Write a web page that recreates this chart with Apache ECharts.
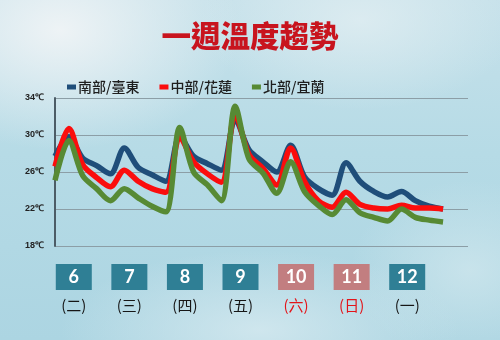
<!DOCTYPE html>
<html>
<head>
<meta charset="utf-8">
<script src="https://cdn.jsdelivr.net/npm/echarts@6/dist/echarts.min.js"></script>
<style>
  html, body { margin: 0; padding: 0; }
  #chart {
    width: 500px; height: 340px;
    background:
      radial-gradient(ellipse 180px 120px at 60px 30px, rgba(240,244,246,0.95), rgba(240,244,246,0) 100%),
      radial-gradient(ellipse 160px 90px at 360px 20px, rgba(225,238,242,0.8), rgba(225,238,242,0) 100%),
      radial-gradient(ellipse 200px 80px at 260px 330px, rgba(215,234,240,0.8), rgba(215,234,240,0) 100%),
      radial-gradient(ellipse 120px 90px at 470px 270px, rgba(210,232,238,0.7), rgba(210,232,238,0) 100%),
      linear-gradient(180deg, #c6e1ea 0%, #b6dbe6 45%, #acd5e2 100%);
  }
</style>
</head>
<body>
<div id="chart"></div>
<script>
// Forecast steps: 4 per day (6-hour steps), 7 days -> 29 points
const southTaitung = [27.7, 29.8, 27.5, 26.7, 25.8, 28.6, 26.5, 25.7, 25.0, 29.9, 27.7, 26.9, 26.2, 31.7, 28.4, 27.1, 26.0, 28.9, 25.5, 24.2, 23.5, 27.0, 25.0, 23.9, 23.3, 23.9, 22.9, 22.3, 22.0];
const centralHualien = [26.6, 30.7, 26.8, 25.4, 24.4, 26.2, 25.0, 24.2, 23.8, 29.8, 27.1, 25.8, 24.9, 32.2, 27.9, 26.4, 24.6, 28.6, 25.0, 22.9, 22.2, 23.8, 22.5, 22.1, 22.0, 22.4, 22.1, 22.1, 22.0];
const northYilan = [25.1, 29.4, 25.6, 24.2, 22.9, 24.2, 23.2, 22.3, 21.7, 30.8, 26.0, 24.6, 22.9, 33.1, 27.4, 25.9, 23.7, 27.1, 23.9, 22.4, 21.4, 23.0, 21.6, 21.1, 20.7, 22.0, 21.1, 20.8, 20.6];

const seriesNames = ['南部/臺東', '中部/花蓮', '北部/宜蘭'];
const dayNumbers = ['6', '7', '8', '9', '10', '11', '12'];
const weekdays = ['二', '三', '四', '五', '六', '日', '一'];
const weekendDays = ['10', '11'];
const yTicks = [18, 22, 26, 30, 34];

const toPairs = arr => arr.map((v, i) => [i, v]);

const chart = echarts.init(document.getElementById('chart'), null, { renderer: 'canvas' });
const cjk = '"Noto Sans CJK TC", "Noto Sans CJK SC", sans-serif';

chart.setOption({
  backgroundColor: 'transparent',
  animation: false,
  title: {
    text: '一週溫度趨勢',
    left: 'center',
    top: 16,
    textStyle: { fontFamily: cjk, fontSize: 29.5, fontWeight: 900, color: '#c8141e' }
  },
  legend: {
    data: seriesNames,
    left: 62,
    top: 75,
    icon: 'rect',
    itemWidth: 9,
    itemHeight: 5,
    itemGap: 20,
    textStyle: { fontFamily: cjk, fontSize: 14, fontWeight: 500, color: '#1e1e1e', padding: [0, 0, 0, -3] }
  },
  grid: [
    { left: 55, top: 98, width: 413, height: 148 },
    { left: 46, top: 255, width: 389, height: 1 }
  ],
  xAxis: [
    {
      type: 'value', gridIndex: 0, min: 0, max: 29.8,
      show: false
    },
    {
      type: 'category', gridIndex: 1, data: dayNumbers,
      axisLine: { show: false }, axisTick: { show: false },
      axisLabel: {
        margin: 8,
        interval: 0,
        formatter: (d, i) => {
          const wk = weekendDays.includes(d);
          return '{' + (wk ? 'we' : 'wd') + '|' + d + '}\n{' + (wk ? 'wer' : 'wdr') + '|(' + weekdays[i] + ')}';
        },
        rich: {
          wd: { width: 36, height: 26, lineHeight: 26, align: 'center', backgroundColor: '#2f7f95', color: '#fff', fontSize: 18, fontWeight: 'bold', fontFamily: 'Lato, sans-serif' },
          we: { width: 36, height: 26, lineHeight: 26, align: 'center', backgroundColor: '#c27e80', color: '#fff', fontSize: 18, fontWeight: 'bold', fontFamily: 'Lato, sans-serif' },
          wdr: { fontSize: 15, lineHeight: 30, color: '#161616', fontFamily: cjk, align: 'center' },
          wer: { fontSize: 15, lineHeight: 30, color: '#e3151a', fontFamily: cjk, align: 'center' }
        }
      }
    }
  ],
  yAxis: [
    {
      type: 'value', gridIndex: 0, min: yTicks[0], max: yTicks[yTicks.length - 1], interval: 4,
      axisLine: { show: true, lineStyle: { color: '#4c5c66', width: 2 } },
      axisTick: { show: false },
      splitLine: { show: true, lineStyle: { color: '#8c9ea6', width: 1 } },
      axisLabel: { formatter: '{value}℃', fontSize: 9, fontWeight: 'bold', color: '#222', margin: 11, fontFamily: '"Liberation Sans", Arial, sans-serif' }
    },
    { type: 'value', gridIndex: 1, show: false }
  ],
  series: [
    { name: seriesNames[0], type: 'line', data: toPairs(southTaitung), smooth: 0.3, showSymbol: false, color: '#1f4e7a', lineStyle: { width: 5.5, color: '#1f4e7a' }, z: 2 },
    { name: seriesNames[1], type: 'line', data: toPairs(centralHualien), smooth: 0.3, showSymbol: false, color: '#fb0d0d', lineStyle: { width: 5.5, color: '#fb0d0d' }, z: 3 },
    { name: seriesNames[2], type: 'line', data: toPairs(northYilan), smooth: 0.3, showSymbol: false, color: '#578a34', lineStyle: { width: 5.5, color: '#578a34' }, z: 4 }
  ]
});
</script>
</body>
</html>
